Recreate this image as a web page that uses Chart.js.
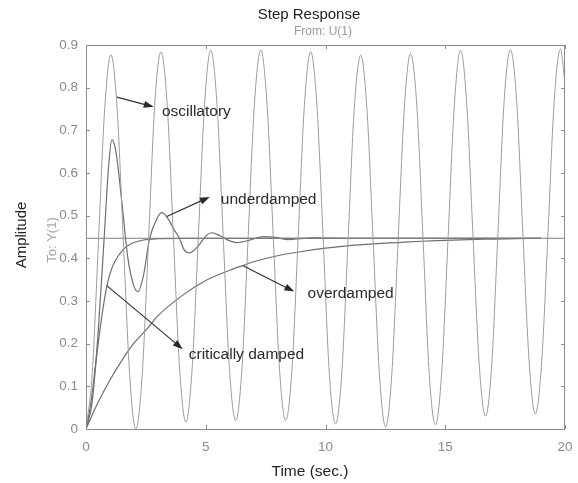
<!DOCTYPE html>
<html>
<head>
<meta charset="utf-8">
<script src="https://cdn.jsdelivr.net/npm/chart.js@4/dist/chart.umd.min.js"></script>
<style>
  html,body{margin:0;padding:0;background:#fff;}
  #wrap{width:578px;height:483px;}
</style>
</head>
<body>
<div id="wrap"><canvas id="chart" width="578" height="483"></canvas></div>
<script>
// values
const xTicks = [0, 5, 10, 15, 20];
const yTicks = [0, 0.1, 0.2, 0.3, 0.4, 0.5, 0.6, 0.7, 0.8, 0.9];

const oscT = [0,0.26,0.52,0.78,1.04,1.30,1.56,1.82,2.08,2.35,2.61,2.87,3.13,3.39,3.65,3.91,4.17,4.43,4.69,4.95,
  5.21,5.47,5.73,5.99,6.25,6.51,6.77,7.03,7.30,7.56,7.82,8.08,8.34,8.60,8.86,9.12,9.38,9.64,9.90,10.16,
  10.42,10.68,10.94,11.20,11.47,11.73,11.99,12.25,12.51,12.77,13.03,13.29,13.55,13.81,14.07,14.33,14.59,14.86,15.12,15.38,
  15.64,15.90,16.16,16.42,16.68,16.94,17.20,17.46,17.72,17.98,18.24,18.50,18.76,19.03,19.29,19.55,19.81,20.0];
const oscY = [0,0.13,0.44,0.75,0.877,0.75,0.44,0.13,0.0,0.13,0.44,0.76,0.884,0.76,0.45,0.14,0.016,0.14,0.45,0.76,
  0.888,0.76,0.45,0.14,0.02,0.14,0.45,0.76,0.888,0.76,0.45,0.14,0.02,0.14,0.45,0.76,0.884,0.76,0.45,0.13,
  0.012,0.13,0.44,0.75,0.876,0.75,0.44,0.13,0.005,0.13,0.44,0.75,0.88,0.76,0.45,0.13,0.01,0.14,0.45,0.76,
  0.888,0.76,0.45,0.15,0.03,0.15,0.46,0.77,0.889,0.77,0.46,0.16,0.035,0.16,0.46,0.77,0.89,0.81];

const underT = [0,0.25,0.5,0.75,0.95,1.08,1.25,1.5,1.75,2.0,2.17,2.4,2.65,3.0,3.17,3.4,3.7,3.9,4.1,4.33,
  4.7,5.0,5.25,5.6,6.0,6.3,6.8,7.4,7.9,8.4,9.5,11,19];
const underY = [0,0.06,0.22,0.44,0.62,0.678,0.65,0.53,0.40,0.335,0.322,0.36,0.445,0.497,0.507,0.495,0.465,0.447,0.42,0.413,
  0.43,0.452,0.46,0.453,0.441,0.437,0.442,0.451,0.449,0.444,0.448,0.447,0.447];

const critT = [0,0.2,0.4,0.6,0.87,1.1,1.4,1.7,2.0,2.4,3.0,4.0,19];
const critY = [0,0.06,0.15,0.24,0.335,0.38,0.41,0.428,0.437,0.443,0.446,0.447,0.447];

const overT = [0,0.5,1,1.5,2,2.54,3,4,5,6,6.54,7,8,9,10,11,12,13,14,15,16,17,18,19];
const overY = [0,0.062,0.115,0.161,0.201,0.234,0.265,0.312,0.348,0.372,0.383,0.392,0.406,0.416,0.424,0.430,0.434,0.437,0.440,0.442,0.444,0.445,0.446,0.447];

const finalT = [0, 20];
const finalY = [0.447, 0.447];

// labels with arrows: [text, textX, textY, arrowFromX, arrowFromY, arrowToX, arrowToY]
const notes = [
  ["oscillatory", 3.17, 0.743, 1.29, 0.778, 2.83, 0.755],
  ["underdamped", 5.63, 0.537, 3.37, 0.498, 5.17, 0.544],
  ["critically damped", 4.29, 0.175, 0.87, 0.336, 4.04, 0.187],
  ["overdamped", 9.25, 0.318, 6.54, 0.383, 8.7, 0.322]
];

const pts = (xs, ys) => xs.map((x, i) => ({x: x, y: ys[i]}));
const FONT = "'Liberation Sans', Arial, sans-serif";

function line(data, color, w){
  return {data: data, borderColor: color, borderWidth: w, pointRadius: 0,
    fill: false, cubicInterpolationMode: 'monotone'};
}

const decor = {
  id: 'decor',
  afterDatasetsDraw(chart){
    const ctx = chart.ctx, a = chart.chartArea;
    const xs = chart.scales.x, ys = chart.scales.y;
    ctx.save();
    // box
    ctx.strokeStyle = '#8c8c8c';
    ctx.lineWidth = 1;
    ctx.strokeRect(a.left + 0.5, a.top + 0.5, a.right - a.left - 1, a.bottom - a.top);
    // inward ticks on all sides
    ctx.beginPath();
    xTicks.forEach(v => {
      const p = Math.round(xs.getPixelForValue(v)) + 0.5;
      ctx.moveTo(p, a.bottom); ctx.lineTo(p, a.bottom - 4);
      ctx.moveTo(p, a.top); ctx.lineTo(p, a.top + 4);
    });
    yTicks.forEach(v => {
      const p = Math.round(ys.getPixelForValue(v)) + 0.5;
      ctx.moveTo(a.left, p); ctx.lineTo(a.left + 4, p);
      ctx.moveTo(a.right, p); ctx.lineTo(a.right - 4, p);
    });
    ctx.stroke();

    // arrows + labels
    ctx.strokeStyle = '#333';
    ctx.fillStyle = '#2a2a2a';
    notes.forEach(n => {
      const x1 = xs.getPixelForValue(n[3]), y1 = ys.getPixelForValue(n[4]);
      const x2 = xs.getPixelForValue(n[5]), y2 = ys.getPixelForValue(n[6]);
      const ang = Math.atan2(y2 - y1, x2 - x1);
      ctx.lineWidth = 1.2;
      ctx.beginPath(); ctx.moveTo(x1, y1); ctx.lineTo(x2 - 6 * Math.cos(ang), y2 - 6 * Math.sin(ang)); ctx.stroke();
      ctx.beginPath();
      ctx.moveTo(x2, y2);
      ctx.lineTo(x2 - 10 * Math.cos(ang) + 3.5 * Math.sin(ang), y2 - 10 * Math.sin(ang) - 3.5 * Math.cos(ang));
      ctx.lineTo(x2 - 10 * Math.cos(ang) - 3.5 * Math.sin(ang), y2 - 10 * Math.sin(ang) + 3.5 * Math.cos(ang));
      ctx.closePath(); ctx.fill();
      ctx.font = '15.5px ' + FONT;
      ctx.textAlign = 'left'; ctx.textBaseline = 'middle';
      ctx.fillText(n[0], xs.getPixelForValue(n[1]), ys.getPixelForValue(n[2]));
    });

    // titles
    ctx.textAlign = 'center'; ctx.textBaseline = 'middle';
    ctx.fillStyle = '#222';
    ctx.font = '15px ' + FONT;
    ctx.fillText('Step Response', 309, 15);
    ctx.font = '15.5px ' + FONT;
    ctx.fillText('Time (sec.)', 310, 472);
    ctx.fillStyle = '#9a9a9a';
    ctx.font = '12px ' + FONT;
    ctx.fillText('From: U(1)', 323, 32);

    ctx.save();
    ctx.translate(22, 235); ctx.rotate(-Math.PI / 2);
    ctx.fillStyle = '#222'; ctx.font = '15px ' + FONT;
    ctx.fillText('Amplitude', 0, 0);
    ctx.restore();
    ctx.save();
    ctx.translate(52, 240); ctx.rotate(-Math.PI / 2);
    ctx.fillStyle = '#a8a8a8'; ctx.font = '13px ' + FONT;
    ctx.fillText('To: Y(1)', 0, 0);
    ctx.restore();
    ctx.restore();
  }
};

new Chart(document.getElementById('chart'), {
  type: 'line',
  data: {
    datasets: [
      line(pts(oscT, oscY), '#9c9c9c', 1),
      line(pts(finalT, finalY), '#808080', 1),
      line(pts(overT, overY), '#6e6e6e', 1.2),
      line(pts(critT, critY), '#6e6e6e', 1.2),
      line(pts(underT, underY), '#6e6e6e', 1.2)
    ]
  },
  options: {
    responsive: false,
    animation: false,
    layout: {padding: {left: 0, top: 45, right: 13, bottom: 24}},
    plugins: {legend: {display: false}, tooltip: {enabled: false}},
    scales: {
      x: {
        type: 'linear', min: 0, max: 20,
        afterBuildTicks: s => { s.ticks = xTicks.map(v => ({value: v})); },
        afterFit: s => { s.height = 30; s.paddingLeft = 0; s.paddingRight = 0; },
        grid: {display: false, drawTicks: false},
        border: {display: false},
        ticks: {padding: 10, color: '#8a8a8a', font: {family: FONT, size: 13.5}, maxRotation: 0}
      },
      y: {
        type: 'linear', min: 0, max: 0.9,
        afterBuildTicks: s => { s.ticks = yTicks.map(v => ({value: v})); },
        afterFit: s => { s.width = 86; s.paddingTop = 0; s.paddingBottom = 0; },
        grid: {display: false, drawTicks: false},
        border: {display: false},
        ticks: {padding: 8, color: '#8a8a8a', font: {family: FONT, size: 13.5},
          callback: v => String(v)}
      }
    }
  },
  plugins: [decor]
});
</script>
</body>
</html>
